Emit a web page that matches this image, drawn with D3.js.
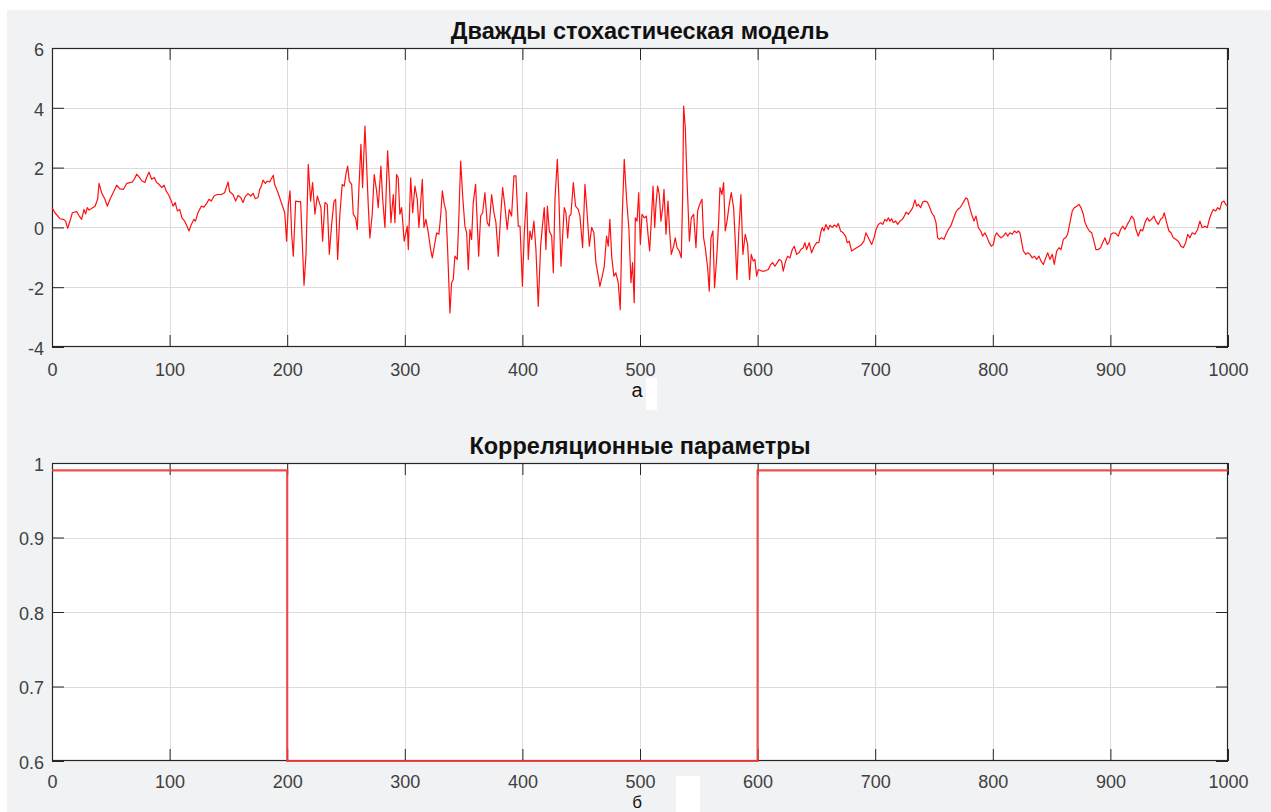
<!DOCTYPE html>
<html>
<head>
<meta charset="utf-8">
<script src="https://cdn.jsdelivr.net/npm/d3@7"></script>
<style>
  body { margin: 0; background: #ffffff; }
  svg { display: block; }
  text { font-family: "Liberation Sans", Arial, Helvetica, sans-serif; }
</style>
</head>
<body>
<svg id="fig" width="1271" height="812"></svg>
<script>
// ---- data --------------------------------------------------------------
// Doubly stochastic model: [sample index, value]
// calm regime, samples 0..200
const calmFirst = [[0,0.66],[2.5,0.49],[6.8,0.29],[9.6,0.27],[11.6,0.21],[13.3,-0.03],[15.3,0.21],[17.3,0.49],[21,0.53],[23.2,0.38],[25.2,0.27],[27.2,0.6],[28.6,0.45],[30,0.66],[31.5,0.58],[33.7,0.63],[36.6,0.71],[38.8,0.94],[40,1.47],[42.2,1.16],[45,0.94],[47,0.71],[49.3,0.94],[52,1.16],[55,1.41],[57.8,1.29],[60.7,1.27],[63.5,1.47],[66.3,1.5],[68.3,1.52],[70,1.61],[72,1.78],[74.3,1.67],[76.3,1.56],[79,1.5],[80.5,1.67],[82.5,1.85],[84.7,1.61],[87,1.67],[89,1.5],[91,1.44],[93.3,1.33],[95.3,1.41],[97,1.22],[99,1.1],[101.5,0.88],[102.9,0.71],[104.8,0.83],[106.6,0.55],[108.6,0.6],[110.5,0.32],[112.8,0.21],[114.8,0.04],[116.5,-0.12],[118.5,0.1],[120.7,0.27],[122,0.21],[124.1,0.49],[127,0.71],[129.2,0.68],[132,0.83],[133.5,0.94],[135.5,0.88],[137.8,1.05],[140.3,1.1],[144,1.1],[146.8,1.16],[149.7,1.52],[151,1.2],[153.9,1.1],[156.2,0.88],[158.2,1.07],[160.5,1.0],[162.4,0.83],[164.3,1.03],[166.7,1.13],[169,1.05],[171,1.14],[172.9,0.96],[175.2,1.0],[176.6,1.27],[178,1.38],[179.4,1.58],[181.4,1.47],[183,1.55],[185.1,1.52],[187.1,1.67],[188.2,1.74],[189.3,1.44],[192.2,1.16],[195,0.83],[197.9,0.49]];

// bursty regime, samples 200..600
const burst = [[199.5,-0.46],[201,0.77],[202.4,1.22],[203.8,-0.23],[205.2,-0.96],[207.2,0.88],[209.4,0.86],[211.4,0.86],[212.8,-0.46],[214.3,-1.93],[216,-0.9],[217.9,2.11],[219.9,0.88],[221.6,1.5],[223.6,0.44],[225.6,1.05],[227.3,0.83],[228.7,0.66],[230.1,-0.46],[232.1,0.83],[234.1,0.77],[235.8,-0.9],[237.8,0.1],[239.7,0.86],[241.2,0.94],[242.9,-1.07],[244.8,0.44],[246.8,1.44],[248.5,1.38],[249.9,1.77],[251.4,2.05],[252.8,1.55],[254.8,1.44],[256.2,0.44],[258.2,0.32],[259.6,-0.07],[261,1.33],[262.7,2.78],[264.1,1.33],[266.1,3.39],[267.5,2.11],[268.9,0.77],[270.3,-0.35],[272.3,0.44],[274,1.77],[276,1.22],[277.4,0.66],[279.7,2.05],[281.1,0.99],[283.1,0],[285.4,2.56],[286.8,1.55],[288.2,0.16],[290.2,1.1],[291.6,0.16],[293,1.77],[294.4,1.66],[295.8,0.44],[297.3,0.66],[299.5,-0.46],
  [302.1,0.04],[303,-0.74],[305,1.66],[306.7,0.49],[308.6,1.38],[310.6,0.94],[312,0],[313.5,0.83],[314.9,1.61],[316.3,0],[318,0.27],[320,-0.18],[322,-0.74],[323.4,-1.02],[325.1,-0.63],[327.1,-0.18],[329,-0.23],[330.5,0.38],[331.9,1.22],[333.6,0.77],[335,0.55],[336.4,-0.74],[338.4,-2.86],[339.8,-1.85],[341.2,-1.74],[342.6,-0.96],[344.6,-1.07],[346,0.38],[347.5,2.22],[349.2,1.05],[351.1,0.04],[352.6,-0.18],[354,-1.41],[355.4,-0.07],[356.8,-0.4],[358.2,0.83],[360.2,1.44],[361.6,0.16],[362.8,-0.96],[364.5,0.38],[366.2,0.49],[368.1,1.16],[370.1,0.16],[371.8,0.04],[373.8,1.1],[375.8,0.49],[377.5,0.16],[379.5,-0.96],[381.5,0.38],[383.2,1.33],[385.1,0.71],[387.1,-0.07],[388.8,0.6],[390.8,0.38],[392.8,1.72],[394.5,1.72],[396.5,0.04],[398,0.04],
  [400,-1.97],[401.6,-0.18],[403.6,1.16],[405,-1.07],[406.4,-0.12],[407.9,-0.4],[409.8,0.21],[411.5,-0.74],[413.5,-2.64],[415.5,-0.63],[416.9,0],[418.6,0.66],[420,-0.74],[421.2,0.71],[422.9,-0.12],[424.9,-0.29],[426.3,-1.52],[427.7,0.94],[429.7,2.28],[431.1,0.94],[432.8,-1.3],[434.2,-0.29],[435.6,0.66],[437,0.49],[438.5,-0.35],[439.9,0.38],[441.3,0.44],[443.3,1.5],[445.2,0.71],[447.5,0.6],[448.9,0.38],[451.2,-0.68],[453.2,1.44],[455.2,0.38],[456.9,-0.63],[458.9,0],[460.8,-0.18],[462.5,-1.18],[464.5,-1.63],[465.9,-1.97],[467.9,-1.63],[469.6,-1.3],[471.6,-0.29],[473,-0.63],[474.4,0.27],[475.9,-0.96],[477.8,-1.63],[479.5,-1.52],[481.5,-1.85],[483.2,-2.75],[484.9,0.38],[486.6,2.28],[488.6,0.94],[490.6,-0.07],[492.3,-1.85],[493.7,-1.18],[495.1,-2.52],
  [496,0.32],[497.5,0.21],[498.9,1.16],[500.3,-0.57],[501.7,0.44],[503.7,0.32],[505.4,0.38],[506.8,-0.23],[508.2,-0.79],[509.6,0.21],[511.1,1.38],[512.5,0],[513.6,0.77],[515,1.38],[516.4,1.1],[517.8,0.21],[519.3,0.66],[520.4,1.27],[522.1,-0.23],[523.8,0.88],[525.2,-0.12],[526.6,-0.9],[528.6,-0.63],[530,-0.35],[531.5,-0.68],[533.4,-0.79],[535.1,-1.02],[536.3,1.1],[537.1,4.06],[538.5,3.34],[540,1.55],[542,-0.46],[543.6,0.32],[545.6,0.44],[547.6,-0.68],[549,0.55],[550.7,0.77],[552.7,0.94],[554.1,-0.35],[555.5,-0.68],[557.5,-1.35],[558.9,-2.13],[560.3,-0.35],[562,-0.12],[563.4,-2.02],[565.2,-1.02],[566.9,0.21],[568,1.33],[569.7,1.1],[571.1,1.5],[572.5,-0.12],[574,0.21],[575.9,0.77],[577.6,1.16],[579.6,0.66],[581,-0.46],[582.4,-1.74],[583.9,-0.23],[585.8,1.1],[587.5,-0.9],[589.5,-0.23],[591.5,-0.57],[593.2,-1.74],[594.6,-0.9],[596.3,-1.13],[597.7,-1.07],[599.2,-1.63]];

// calm regime, samples 600..1000
const calmSecond = [[600.6,-1.41],[603.4,-1.46],[606.2,-1.46],[609.1,-1.41],[611.1,-1.24],[612.8,-1.18],[614.7,-1.3],[616.7,-1.18],[618.4,-1.07],[620.4,-1.13],[621.8,-1.46],[623.8,-1.13],[625.5,-0.96],[627.5,-1.02],[629.5,-0.74],[631.2,-0.63],[633.2,-0.9],[635.1,-0.85],[636.8,-0.74],[638.8,-0.68],[640.2,-0.51],[641.7,-0.74],[643.9,-0.51],[645.9,-0.85],[648.2,-0.63],[650.2,-0.51],[652.1,-0.51],[653.6,-0.18],[655,0],[656.4,-0.12],[658.1,0.1],[660.1,-0.07],[661.5,0.07],[663.5,0],[665.2,0.08],[667.2,0.02],[668.6,0.13],[670.6,-0.12],[672.8,-0.18],[674.8,-0.29],[676.2,-0.51],[677.9,-0.46],[679.9,-0.79],[681.9,-0.74],[684.2,-0.68],[686.4,-0.63],[688.4,-0.57],[690.4,-0.46],[692.1,-0.18],
  [695.6,-0.46],[697,-0.57],[699,-0.35],[700.7,-0.07],[702.7,0.1],[704.7,0.16],[706.4,0.1],[708.3,0.27],[709.8,0.21],[711.2,0.32],[712.6,0.21],[714,0.29],[715.4,0.16],[717.4,0.21],[719.1,0.1],[721.1,0.21],[723.1,0.27],[724.8,0.38],[726.2,0.51],[728.2,0.44],[730.2,0.55],[731.9,0.66],[733.8,0.92],[735.3,0.71],[736.7,0.77],[738.7,0.66],[740.4,0.85],[742.3,0.88],[744.3,0.85],[746,0.71],[748,0.49],[750,0.38],[751.7,0.16],[753.1,-0.35],[754.5,-0.4],[756.5,-0.35],[758.5,-0.4],[760.2,-0.23],[762.2,-0.07],[764.2,0.04],[766.4,0.27],[768.4,0.49],[770.1,0.6],[772.1,0.66],[773.5,0.74],[775.5,0.88],[777.2,0.99],[778.6,0.94],[780,0.71],[782,0.44],[784,0.21],[785.7,0.38],[787.7,-0.01],[789.7,-0.12],[791.4,-0.29],[793.3,-0.18],[795.3,-0.35],[797,-0.51],[798.7,-0.63],
  [800.5,-0.57],[801.9,-0.29],[803.3,-0.18],[805.3,-0.29],[807,-0.35],[809,-0.29],[811,-0.18],[812.7,-0.29],[814.6,-0.18],[816.6,-0.23],[818.3,-0.12],[820.3,-0.18],[821.7,-0.12],[823.1,-0.18],[824.6,-0.51],[826,-0.79],[828,-0.9],[829.7,-0.85],[831.6,-0.9],[833.6,-1.02],[835.3,-0.96],[837.3,-1.07],[839.3,-0.96],[841,-1.13],[843,-1.24],[845,-1.02],[846.7,-0.85],[848.6,-1.07],[850.6,-0.9],[852.3,-1.24],[854.3,-0.79],[856.3,-0.68],[858,-0.74],[860,-0.4],[861.9,-0.35],[863.6,-0.23],[865.6,0.16],[867.6,0.55],[869.3,0.66],[871.3,0.71],[873.3,0.77],[875,0.66],[877,0.44],[878.4,0.16],[880.4,-0.01],[882.1,-0.12],[884.1,-0.18],[886,-0.46],[887.7,-0.74],[889.7,-0.74],[891.7,-0.68],[893.4,-0.51],[895.4,-0.35],[897.4,-0.57],
  [898.8,-0.51],[900.5,-0.23],[902.5,-0.18],[904.5,-0.2],[906.7,-0.29],[908.7,-0.07],[910.4,0.04],[912.4,-0.07],[914.4,0.1],[916.1,0.21],[918.1,0.38],[920,0.27],[921.7,-0.07],[923.7,-0.29],[925.7,-0.07],[927.4,-0.12],[929.4,0.16],[931.4,0.32],[933.1,0.21],[935,0.27],[937,0.38],[938.7,0.21],[940.7,0.1],[942.7,0.27],[944.4,0.32],[945.8,0.49],[947.8,0.16],[949.8,-0.12],[951.5,-0.18],[953.5,-0.35],[955.5,-0.4],[957.7,-0.46],[960,-0.63],[962,-0.68],[964,-0.51],[965.7,-0.23],[967.6,-0.35],[969.6,-0.18],[971.9,-0.23],[974.1,-0.07],[976.1,0.21],[978.1,-0.01],[980.4,0.04],[982.4,-0.01],[984.1,0.27],[986.1,0.49],[987.5,0.6],[989.5,0.55],[991.2,0.66],[993.1,0.6],[994.6,0.83],[996.5,0.88],[998,0.77],[999.6,0.71]];

// correlation parameter: regime boundaries and level in each regime
const regimeStart = [0, 200, 600];
const regimeEnd   = [200, 600, 1000];
const regimeCorr  = [0.99, 0.6, 0.99];

// axis ticks and labels
const xTicks = [0, 100, 200, 300, 400, 500, 600, 700, 800, 900, 1000];
const xTickLabels = ["0", "100", "200", "300", "400", "500", "600", "700", "800", "900", "1000"];
const signalTicks = [-4, -2, 0, 2, 4, 6];
const signalTickLabels = ["-4", "-2", "0", "2", "4", "6"];
const corrTicks = [0.6, 0.7, 0.8, 0.9, 1];
const corrTickLabels = ["0.6", "0.7", "0.8", "0.9", "1"];

const titles = ["Дважды стохастическая модель", "Корреляционные параметры"];
const captions = ["а", "б"];

// ---- layout ------------------------------------------------------------
const svg = d3.select("#fig");
const W = 1271, H = 812;

// figure background
svg.append("rect").attr("x", 7).attr("y", 10).attr("width", W - 7).attr("height", H - 10)
  .attr("fill", "#f1f2f3");

const left = 52, right = 1228;
const panels = [
  { top: 48, bottom: 347, domain: [-4, 6], ticks: signalTicks, labels: signalTickLabels, pad: 16 },
  { top: 463, bottom: 761, domain: [0.6, 1], ticks: corrTicks, labels: corrTickLabels, pad: 14 }
];

function drawPanel(p, title) {
  const x = d3.scaleLinear().domain([0, 1000]).range([left, right]);
  const y = d3.scaleLinear().domain(p.domain).range([p.bottom, p.top]);
  const g = svg.append("g");

  g.append("rect").attr("x", left).attr("y", p.top)
    .attr("width", right - left).attr("height", p.bottom - p.top).attr("fill", "#ffffff");

  // grid
  const grid = g.append("g").attr("stroke", "#dcdcdc").attr("stroke-width", 1);
  grid.selectAll("line.gx").data(xTicks.slice(1, -1)).join("line")
    .attr("x1", d => Math.round(x(d)) + 0.5).attr("x2", d => Math.round(x(d)) + 0.5)
    .attr("y1", p.top).attr("y2", p.bottom);
  grid.selectAll("line.gy").data(p.ticks.slice(1, -1)).join("line")
    .attr("y1", d => Math.round(y(d)) + 0.5).attr("y2", d => Math.round(y(d)) + 0.5)
    .attr("x1", left).attr("x2", right);

  const tickLen = 12;
  const styleAxis = sel => {
    sel.select(".domain").remove();
    sel.selectAll(".tick line").attr("stroke", "#262626").attr("stroke-width", 1);
    sel.selectAll(".tick text").attr("fill", "#404040").attr("font-size", 18);
  };

  g.append("g").attr("transform", `translate(0,${p.bottom})`)
    .call(d3.axisBottom(x).tickValues(xTicks).tickSizeInner(-tickLen).tickSizeOuter(0).tickPadding(p.pad)
      .tickFormat((d, i) => xTickLabels[i]))
    .call(styleAxis);
  g.append("g").attr("transform", `translate(0,${p.top})`)
    .call(d3.axisTop(x).tickValues(xTicks).tickSizeInner(-tickLen).tickSizeOuter(0).tickFormat(""))
    .call(styleAxis);
  g.append("g").attr("transform", `translate(${left},0)`)
    .call(d3.axisLeft(y).tickValues(p.ticks).tickSizeInner(-tickLen).tickSizeOuter(0).tickPadding(8)
      .tickFormat((d, i) => p.labels[i]))
    .call(styleAxis)
    .selectAll(".tick text").attr("dy", "0.4em");
  g.append("g").attr("transform", `translate(${right},0)`)
    .call(d3.axisRight(y).tickValues(p.ticks).tickSizeInner(-tickLen).tickSizeOuter(0).tickFormat(""))
    .call(styleAxis);

  // box
  g.append("rect").attr("x", left + 0.5).attr("y", p.top + 0.5)
    .attr("width", right - left - 1).attr("height", p.bottom - p.top - 1)
    .attr("fill", "none").attr("stroke", "#262626").attr("stroke-width", 1.2);

  g.append("text").attr("x", (left + right) / 2).attr("y", p.top - 9)
    .attr("text-anchor", "middle").attr("font-size", 23.5).attr("font-weight", "bold")
    .attr("fill", "#111").text(title);

  return { g, x, y };
}

// ---- upper panel: signal -------------------------------------------------
const upper = drawPanel(panels[0], titles[0]);
const signal = calmFirst.concat(burst, calmSecond);
upper.g.append("path").datum(signal)
  .attr("fill", "none").attr("stroke", "#ff1010").attr("stroke-width", 1.2)
  .attr("stroke-linejoin", "round")
  .attr("d", d3.line().x(d => upper.x(d[0])).y(d => upper.y(d[1])));

// ---- lower panel: correlation parameter ----------------------------------
const lower = drawPanel(panels[1], titles[1]);
const steps = regimeStart.map((s, i) => [s, regimeCorr[i]]);
steps.push([regimeEnd[regimeEnd.length - 1], regimeCorr[regimeCorr.length - 1]]);
lower.g.append("path").datum(steps)
  .attr("fill", "none").attr("stroke", "#f03a3a").attr("stroke-width", 2.2).attr("stroke-opacity", 0.9)
  .attr("d", d3.line().curve(d3.curveStepAfter).x(d => lower.x(d[0])).y(d => lower.y(d[1])));

// ---- panel captions ------------------------------------------------------
const capY = [397, 808];
const capSize = [20, 17];
captions.forEach((c, i) => {
  svg.append("text").attr("x", 637).attr("y", capY[i]).attr("text-anchor", "middle")
    .attr("font-family", "'Liberation Serif', 'Times New Roman', serif")
    .attr("font-size", capSize[i]).attr("fill", "#111").text(c);
});
// blank patches beside the captions
svg.append("rect").attr("x", 646).attr("y", 378).attr("width", 11).attr("height", 32).attr("fill", "#ffffff");
svg.append("rect").attr("x", 676).attr("y", 776).attr("width", 24).attr("height", 36).attr("fill", "#ffffff");
</script>
</body>
</html>
